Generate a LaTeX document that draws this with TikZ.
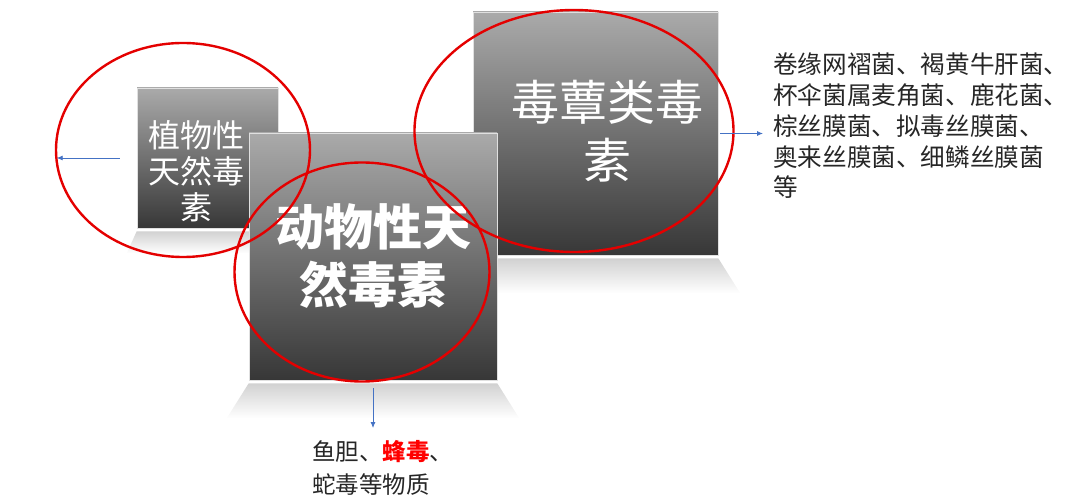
\documentclass[tikz,border=0pt]{standalone}
\usepackage{fontspec}
\newfontfamily\cjk{Noto Sans CJK SC}
\usetikzlibrary{shapes.geometric,arrows.meta}

\definecolor{boxtop}{RGB}{170,170,170}
\definecolor{boxmid}{RGB}{135,135,135}
\definecolor{boxbot}{RGB}{55,55,55}
\definecolor{ringred}{RGB}{228,0,0}
\definecolor{arrowblue}{RGB}{68,114,196}
\definecolor{txtgray}{RGB}{38,38,38}

\tikzset{
  toxbox/.style={inner sep=0pt, top color=boxtop, middle color=boxmid, bottom color=boxbot,
    draw=white!88!black, line width=0.6pt},
  boxlbl/.style={text=white, align=center, inner sep=0pt, font=\cjk},
  shelf/.style={top color=black!18, bottom color=white},
  ring/.style={draw=ringred, line width=2.4pt, ellipse, inner sep=0pt},
  pointer/.style={-{Latex[length=6pt,width=5pt]}, draw=arrowblue, line width=0.8pt},
  note/.style={text=txtgray, align=left, inner sep=0pt}
}

\begin{document}
\begin{tikzpicture}[x=1pt, y=-1pt]
  \useasboundingbox (0,0) rectangle (1080,497);

  % plant box
  \node[toxbox, minimum width=141, minimum height=140] (plant) at (207.5,158) {};
  \shade[shelf] ([yshift=-3pt]plant.south west) -- ([yshift=-3pt]plant.south east)
    -- ++(10,22) -- ([xshift=-10pt,yshift=-25pt]plant.south west) -- cycle;
  \node[boxlbl, font=\cjk\fontsize{32}{36}\selectfont] (plantlbl) at ([xshift=-11pt,yshift=-13pt]plant.center)
    {植物性\\天然毒\\素};

  % mushroom box
  \node[toxbox, minimum width=245, minimum height=243] (mush) at (595.5,133.5) {};
  \shade[shelf] ([yshift=-3pt]mush.south west) -- ([yshift=-3pt]mush.south east)
    -- ++(22,35) -- ([xshift=-22pt,yshift=-38pt]mush.south west) -- cycle;
  \node[boxlbl, font=\cjk\fontsize{48}{58}\selectfont] (mushlbl) at ([xshift=12pt,yshift=2pt]mush.center)
    {毒蕈类毒\\素};

  % animal box
  \node[toxbox, minimum width=248, minimum height=247] (anim) at (373,256.5) {};
  \shade[shelf] ([yshift=-3pt]anim.south west) -- ([yshift=-3pt]anim.south east)
    -- ++(22,35) -- ([xshift=-22pt,yshift=-38pt]anim.south west) -- cycle;
  \node[boxlbl, font=\cjk\bfseries\fontsize{49}{58}\selectfont] (animlbl) at (anim.center)
    {动物性天\\然毒素};

  % red rings
  \node[ring, minimum width=254, minimum height=214] (plantring) at (183,150) {};
  \node[ring, minimum width=255, minimum height=219] (animring) at (362,272) {};
  \node[ring, minimum width=319, minimum height=242] (mushring) at (574,131) {};

  % lists
  \node[note, anchor=north west, font=\cjk\fontsize{24.6}{30.75}\selectfont] (mushlist) at (773,53)
    {卷缘网褶菌、褐黄牛肝菌、\\杯伞菌属麦角菌、鹿花菌、\\棕丝膜菌、拟毒丝膜菌、\\奥来丝膜菌、细鳞丝膜菌\\等};
  \node[note, anchor=north west, font=\cjk\fontsize{23.5}{33}\selectfont] (animlist) at (312,440)
    {鱼胆、{\bfseries\color{red}蜂毒}、\\蛇毒等物质};

  % arrows
  \coordinate (plantout) at ([xshift=-80pt]plant.west);
  \draw[pointer] ([xshift=-17pt]plant.west) -- (plantout);
  \draw[pointer, shorten <=2pt, shorten >=10pt] (mush.east) -- (mush.east -| mushlist.west);
  \draw[pointer, shorten <=8pt, shorten >=12pt] (anim.south) -- (anim.south |- animlist.north);
\end{tikzpicture}
\end{document}
